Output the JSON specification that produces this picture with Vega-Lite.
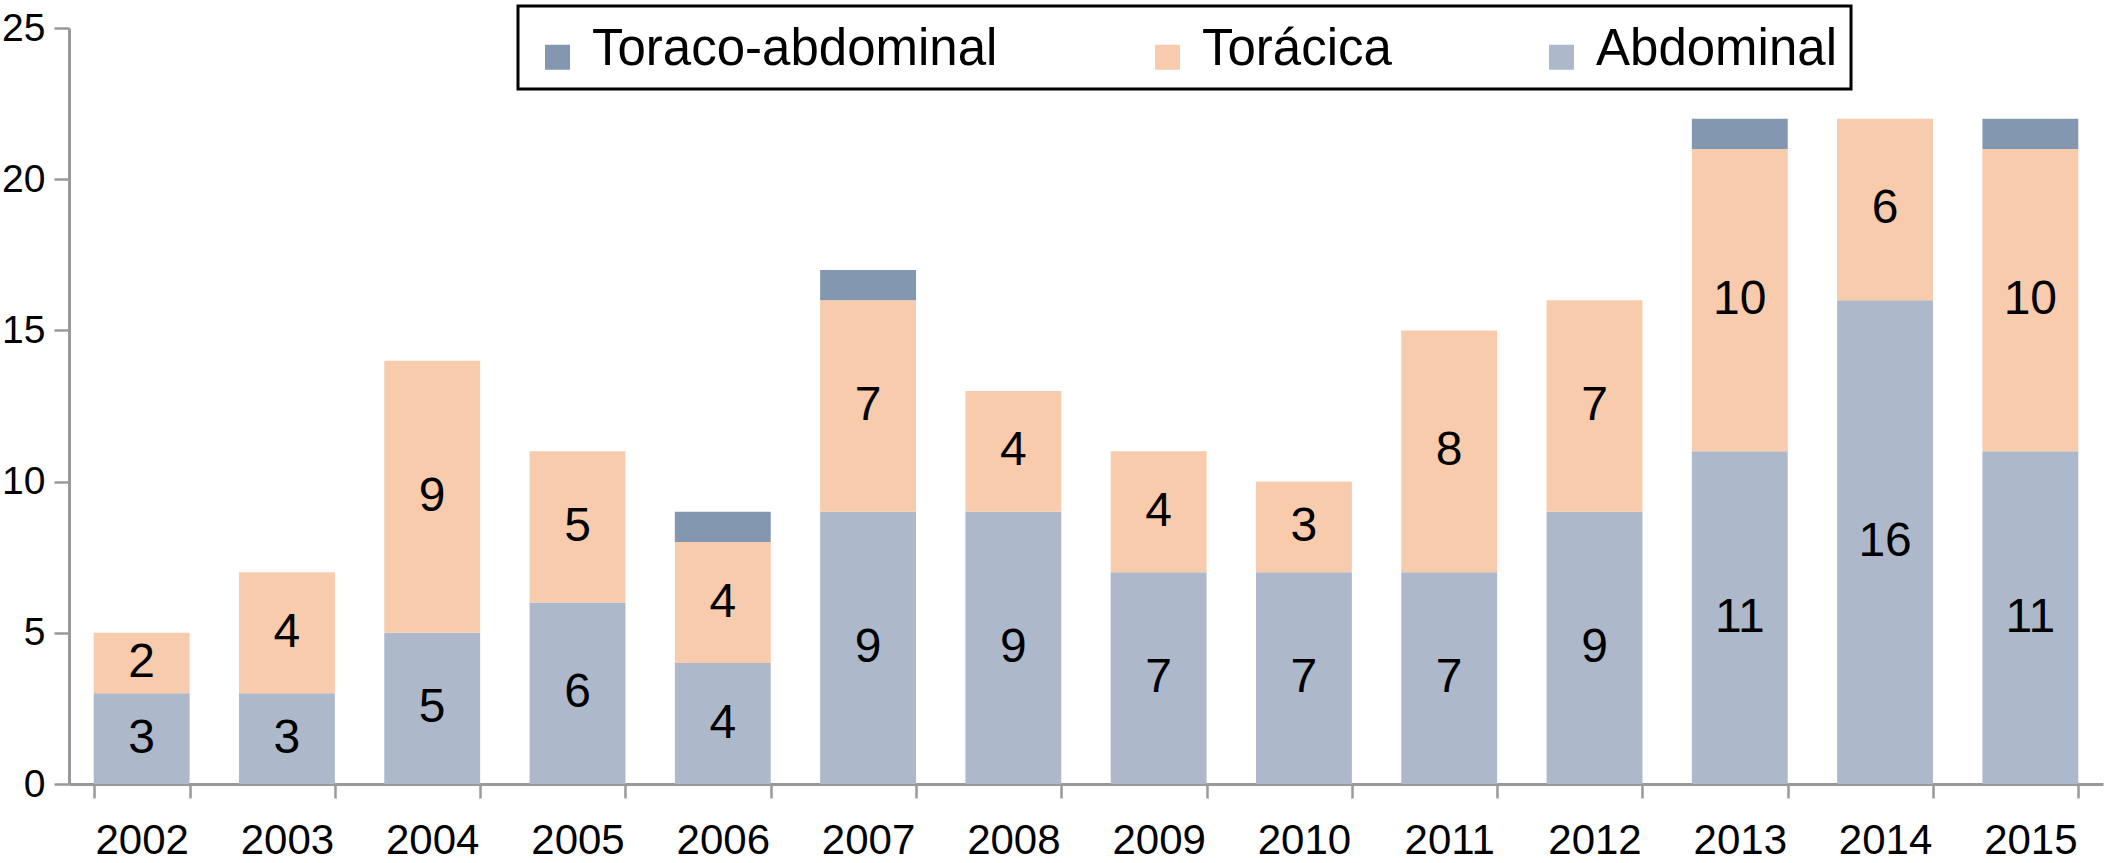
{
  "$schema": "https://vega.github.io/schema/vega-lite/v6.json",
  "autosize": {"type": "none"},
  "width": 2034,
  "height": 756,
  "padding": {"left": 69, "top": 28, "right": 1, "bottom": 79},
  "background": "white",
  "config": {
    "view": {"stroke": null},
    "font": "Liberation Sans",
    "axis": {
      "domainColor": "#999999",
      "domainWidth": 3,
      "tickColor": "#999999",
      "tickWidth": 2.5,
      "labelColor": "black",
      "labelFont": "Liberation Sans",
      "labelFontSize": 42,
      "grid": false,
      "title": null
    }
  },
  "data": {
    "values": [
      {"year": "2002", "tipo": "Abdominal", "pos": 1, "n": 3},
      {"year": "2002", "tipo": "Torácica", "pos": 2, "n": 2},
      {"year": "2002", "tipo": "Toraco-abdominal", "pos": 3, "n": 0},
      {"year": "2003", "tipo": "Abdominal", "pos": 1, "n": 3},
      {"year": "2003", "tipo": "Torácica", "pos": 2, "n": 4},
      {"year": "2003", "tipo": "Toraco-abdominal", "pos": 3, "n": 0},
      {"year": "2004", "tipo": "Abdominal", "pos": 1, "n": 5},
      {"year": "2004", "tipo": "Torácica", "pos": 2, "n": 9},
      {"year": "2004", "tipo": "Toraco-abdominal", "pos": 3, "n": 0},
      {"year": "2005", "tipo": "Abdominal", "pos": 1, "n": 6},
      {"year": "2005", "tipo": "Torácica", "pos": 2, "n": 5},
      {"year": "2005", "tipo": "Toraco-abdominal", "pos": 3, "n": 0},
      {"year": "2006", "tipo": "Abdominal", "pos": 1, "n": 4},
      {"year": "2006", "tipo": "Torácica", "pos": 2, "n": 4},
      {"year": "2006", "tipo": "Toraco-abdominal", "pos": 3, "n": 1},
      {"year": "2007", "tipo": "Abdominal", "pos": 1, "n": 9},
      {"year": "2007", "tipo": "Torácica", "pos": 2, "n": 7},
      {"year": "2007", "tipo": "Toraco-abdominal", "pos": 3, "n": 1},
      {"year": "2008", "tipo": "Abdominal", "pos": 1, "n": 9},
      {"year": "2008", "tipo": "Torácica", "pos": 2, "n": 4},
      {"year": "2008", "tipo": "Toraco-abdominal", "pos": 3, "n": 0},
      {"year": "2009", "tipo": "Abdominal", "pos": 1, "n": 7},
      {"year": "2009", "tipo": "Torácica", "pos": 2, "n": 4},
      {"year": "2009", "tipo": "Toraco-abdominal", "pos": 3, "n": 0},
      {"year": "2010", "tipo": "Abdominal", "pos": 1, "n": 7},
      {"year": "2010", "tipo": "Torácica", "pos": 2, "n": 3},
      {"year": "2010", "tipo": "Toraco-abdominal", "pos": 3, "n": 0},
      {"year": "2011", "tipo": "Abdominal", "pos": 1, "n": 7},
      {"year": "2011", "tipo": "Torácica", "pos": 2, "n": 8},
      {"year": "2011", "tipo": "Toraco-abdominal", "pos": 3, "n": 0},
      {"year": "2012", "tipo": "Abdominal", "pos": 1, "n": 9},
      {"year": "2012", "tipo": "Torácica", "pos": 2, "n": 7},
      {"year": "2012", "tipo": "Toraco-abdominal", "pos": 3, "n": 0},
      {"year": "2013", "tipo": "Abdominal", "pos": 1, "n": 11},
      {"year": "2013", "tipo": "Torácica", "pos": 2, "n": 10},
      {"year": "2013", "tipo": "Toraco-abdominal", "pos": 3, "n": 1},
      {"year": "2014", "tipo": "Abdominal", "pos": 1, "n": 16},
      {"year": "2014", "tipo": "Torácica", "pos": 2, "n": 6},
      {"year": "2014", "tipo": "Toraco-abdominal", "pos": 3, "n": 0},
      {"year": "2015", "tipo": "Abdominal", "pos": 1, "n": 11},
      {"year": "2015", "tipo": "Torácica", "pos": 2, "n": 10},
      {"year": "2015", "tipo": "Toraco-abdominal", "pos": 3, "n": 1}
    ]
  },
  "transform": [
    {"stack": "n", "groupby": ["year"], "sort": [{"field": "pos"}], "as": ["y0", "y1"]},
    {"calculate": "(datum.y0 + datum.y1) / 2", "as": "ymid"}
  ],
  "encoding": {
    "x": {
      "field": "year",
      "type": "nominal",
      "scale": {"paddingInner": 0.34, "paddingOuter": 0.17},
      "axis": {
        "labelAngle": 0,
        "tickBand": "extent",
        "tickSize": 14,
        "labelPadding": 22
      }
    }
  },
  "layer": [
    {
      "mark": {"type": "bar"},
      "transform": [{"filter": "datum.n > 0"}],
      "encoding": {
        "y": {
          "field": "y0",
          "type": "quantitative",
          "scale": {"domain": [0, 25], "nice": false},
          "axis": {"values": [0, 5, 10, 15, 20, 25], "tickSize": 15, "labelPadding": 9, "labelFontSize": 39}
        },
        "y2": {"field": "y1"},
        "color": {
          "field": "tipo",
          "type": "nominal",
          "scale": {
            "domain": ["Toraco-abdominal", "Torácica", "Abdominal"],
            "range": ["#8497b0", "#f8cbad", "#adb9ca"]
          },
          "legend": {
            "title": null,
            "orient": "none",
            "legendX": 449,
            "legendY": -22,
            "direction": "horizontal",
            "symbolType": "square",
            "symbolSize": 625,
            "symbolStrokeWidth": 0,
            "labelFontSize": 51,
            "labelFont": "Liberation Sans",
            "labelColor": "black",
            "labelLimit": 600,
            "labelOffset": 9,
            "columnPadding": 144,
            "padding": 14,
            "strokeColor": "black",
            "fillColor": "white",
            "encode": {
              "legend": {"update": {"strokeWidth": {"value": 3}}},
              "labels": {"update": {"dy": {"value": 4}}},
              "symbols": {"update": {"y": {"value": 37}}}
            }
          }
        }
      }
    },
    {
      "mark": {"type": "text", "fontSize": 48, "font": "Liberation Sans", "color": "black", "baseline": "middle"},
      "transform": [{"filter": "datum.tipo != 'Toraco-abdominal'"}],
      "encoding": {
        "y": {"field": "ymid", "type": "quantitative"},
        "text": {"field": "n", "type": "quantitative"}
      }
    }
  ]
}
